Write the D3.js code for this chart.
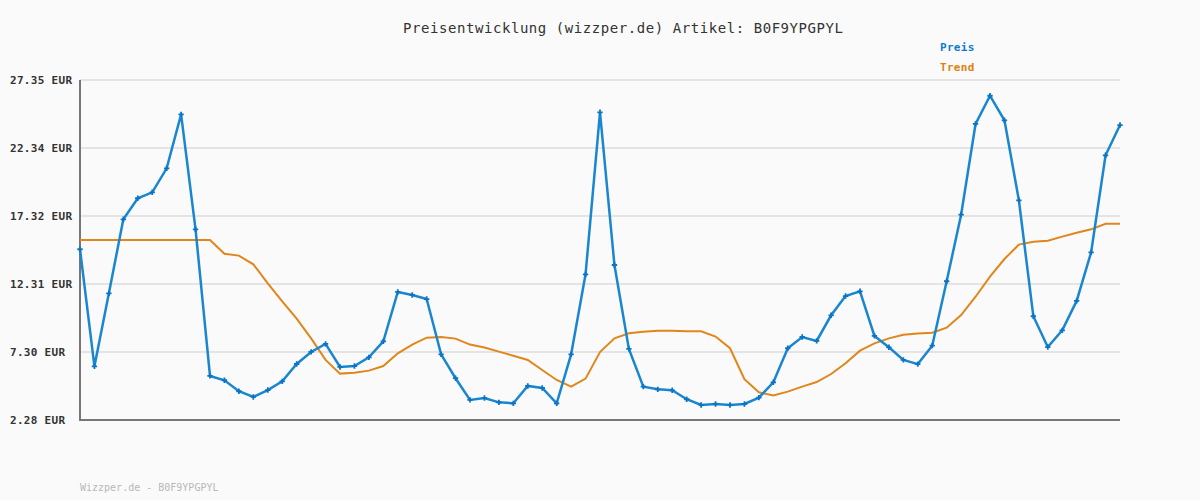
<!DOCTYPE html>
<html lang="de">
<head>
    <meta charset="UTF-8">
    <title>Preisentwicklung B0F9YPGPYL</title>
    <style>
        body {
            margin: 0;
            padding: 0;
            background: #fafafa;
        }

        svg {
            display: block;
            font-family: "DejaVu Sans Mono", monospace;
        }
    </style>
</head>
<body>
    <svg width="1200" height="500"></svg>

    <script src="https://d3js.org/d3.v7.min.js"></script>
    <script>
        // Price values (EUR), one per sample
        const preis = [
            14.87, 6.24, 11.62, 17.08, 18.63, 19.07, 20.84, 24.82, 16.34, 5.53,
            5.21, 4.40, 3.98, 4.49, 5.13, 6.41, 7.30, 7.89, 6.19, 6.26,
            6.90, 8.08, 11.72, 11.50, 11.20, 7.12, 5.36, 3.76, 3.90, 3.58,
            3.51, 4.79, 4.64, 3.51, 7.12, 13.02, 24.97, 13.71, 7.52, 4.74,
            4.54, 4.47, 3.81, 3.39, 3.46, 3.39, 3.46, 3.93, 5.06, 7.57,
            8.40, 8.11, 10.00, 11.42, 11.77, 8.48, 7.64, 6.71, 6.40, 7.76,
            12.51, 17.42, 24.11, 26.19, 24.38, 18.48, 9.93, 7.66, 8.89, 11.06,
            14.64, 21.80, 24.03
        ];

        // Trend line values
        const trend = [
            15.55, 15.55, 15.55, 15.55, 15.55, 15.55, 15.55, 15.55, 15.55, 15.55,
            14.54, 14.40, 13.76, 12.36, 11.03, 9.75, 8.30, 6.71, 5.70, 5.77,
            5.92, 6.26, 7.20, 7.84, 8.35, 8.40, 8.28, 7.84, 7.62, 7.32,
            7.02, 6.71, 5.97, 5.23, 4.74, 5.33, 7.29, 8.30, 8.67, 8.79,
            8.86, 8.86, 8.82, 8.82, 8.43, 7.57, 5.29, 4.32, 4.08, 4.37,
            4.74, 5.08, 5.67, 6.46, 7.39, 7.93, 8.30, 8.57, 8.65, 8.72,
            9.09, 10.02, 11.37, 12.85, 14.15, 15.21, 15.43, 15.50, 15.80, 16.09,
            16.34, 16.75, 16.75
        ];

        const yTicks = [2.28, 7.30, 12.31, 17.32, 22.34, 27.35];
        const artikel = "B0F9YPGPYL";

        const svg = d3.select("svg");
        const plotLeft = 80, plotRight = 1120, plotTop = 80, plotBottom = 420;

        const x = d3.scaleLinear()
            .domain([0, preis.length - 1])
            .range([plotLeft, plotRight]);

        const y = d3.scaleLinear()
            .domain([yTicks[0], yTicks[yTicks.length - 1]])
            .range([plotBottom, plotTop]);

        svg.append("rect")
            .attr("width", 1200)
            .attr("height", 500)
            .attr("fill", "#fafafa");

        // Horizontal gridlines
        svg.append("g")
            .selectAll("line")
            .data(yTicks)
            .enter()
            .append("line")
            .attr("x1", plotLeft)
            .attr("x2", plotRight)
            .attr("y1", d => y(d))
            .attr("y2", d => y(d))
            .attr("stroke", "#e4e4e4")
            .attr("stroke-width", 2);

        // Y labels
        svg.append("g")
            .selectAll("text")
            .data(yTicks)
            .enter()
            .append("text")
            .attr("x", 10)
            .attr("y", d => y(d) + 4)
            .attr("font-size", 11)
            .attr("font-weight", "bold")
            .attr("letter-spacing", 0.3)
            .attr("fill", "#333")
            .text(d => d.toFixed(2) + " EUR");

        // Axis lines
        svg.append("line")
            .attr("x1", plotLeft).attr("x2", plotLeft)
            .attr("y1", plotTop).attr("y2", plotBottom + 1)
            .attr("stroke", "#777").attr("stroke-width", 2);
        svg.append("line")
            .attr("x1", plotLeft - 1).attr("x2", plotRight)
            .attr("y1", plotBottom).attr("y2", plotBottom)
            .attr("stroke", "#777").attr("stroke-width", 2);

        const line = d3.line()
            .x((d, i) => x(i))
            .y(d => y(d));

        // Trend line
        svg.append("path")
            .datum(trend)
            .attr("d", line)
            .attr("fill", "none")
            .attr("stroke", "#e0861a")
            .attr("stroke-width", 2);

        // Price line
        svg.append("path")
            .datum(preis)
            .attr("d", line)
            .attr("fill", "none")
            .attr("stroke", "#1a86d0")
            .attr("stroke-width", 2.5);

        // Markers
        svg.append("g")
            .selectAll("path")
            .data(preis)
            .enter()
            .append("path")
            .attr("transform", (d, i) => `translate(${x(i)},${y(d)})`)
            .attr("d", d3.symbol().type(d3.symbolCross).size(16))
            .attr("fill", "#0b74c4");

        // Title
        svg.append("text")
            .attr("x", 403)
            .attr("y", 33)
            .attr("font-size", 14)
            .attr("textLength", 440)
            .attr("lengthAdjust", "spacing")
            .attr("fill", "#333")
            .text("Preisentwicklung (wizzper.de) Artikel: " + artikel);

        // Legend
        svg.append("text")
            .attr("x", 940).attr("y", 51)
            .attr("font-size", 11).attr("font-weight", "bold")
            .attr("letter-spacing", 0.3)
            .attr("fill", "#0e7ccc")
            .text("Preis");
        svg.append("text")
            .attr("x", 940).attr("y", 71)
            .attr("font-size", 11).attr("font-weight", "bold")
            .attr("letter-spacing", 0.3)
            .attr("fill", "#e0800c")
            .text("Trend");

        // Footer
        svg.append("text")
            .attr("x", 80).attr("y", 491)
            .attr("font-size", 10)
            .attr("fill", "#b8b8b8")
            .text("Wizzper.de - " + artikel);
    </script>
</body>
</html>
